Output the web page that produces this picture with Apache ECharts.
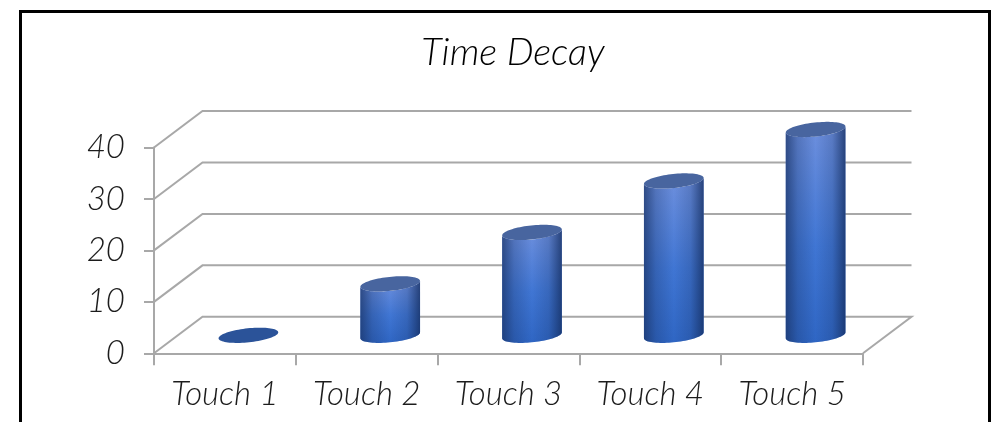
<!DOCTYPE html>
<html>
<head>
<meta charset="utf-8">
<style>html,body{margin:0;padding:0;background:#fff}#c{width:995px;height:422px}</style>
<script src="https://cdn.jsdelivr.net/npm/echarts@6/dist/echarts.min.js"></script>
</head>
<body>
<div id="c"></div>
<script>
// Chart content
const chartTitle = 'Time Decay';
const categories = ['Touch 1', 'Touch 2', 'Touch 3', 'Touch 4', 'Touch 5'];
const touchValues = [0, 10, 20, 30, 40];
const valueTicks = [0, 10, 20, 30, 40];

// Pseudo-3D look: floor depth and cylinder proportions
const DEPTH_X = 48.5, DEPTH_Y = -36.5;
const MID_X = 23.5, MID_Y = -18;
const RX = 30, RY = 7, TILT = -6 * Math.PI / 180;
const LINE = '#a8a8a8';

// Point on the tilted ellipse around (cx, cy) at parameter t
function ellipsePoint(cx, cy, t) {
  const c = Math.cos(t), s = Math.sin(t);
  return [
    cx + RX * c * Math.cos(TILT) - RY * s * Math.sin(TILT),
    cy + RX * c * Math.sin(TILT) + RY * s * Math.cos(TILT)
  ];
}
function ellipsePoints(cx, cy, from, to, steps) {
  const pts = [];
  for (let i = 0; i <= steps; i++) pts.push(ellipsePoint(cx, cy, from + (to - from) * i / steps));
  return pts;
}

// Wall and floor lines that recede from each value tick
function renderGridLine(params, api) {
  const y = api.coord([0, api.value(1)])[1];
  const left = params.coordSys.x, right = left + params.coordSys.width;
  const style = { stroke: LINE, lineWidth: 2, fill: null };
  const points = [[left, y], [left + DEPTH_X, y + DEPTH_Y], [right + DEPTH_X, y + DEPTH_Y]];
  if (api.value(1) === 0) points.push([right, y]);
  return { type: 'polyline', shape: { points }, style };
}

// One cylinder: body, side shading and cap
function renderCylinder(params, api) {
  const top = api.coord([api.value(0), api.value(1)]);
  const base = api.coord([api.value(0), 0]);
  const cx = top[0] + MID_X;
  const yTop = top[1] + MID_Y, yBase = base[1] + MID_Y;
  const children = [];
  if (api.value(1) > 0) {
    const t0 = Math.atan2(-RY * Math.sin(TILT), RX * Math.cos(TILT));
    const body = ellipsePoints(cx, yBase, t0, t0 + Math.PI, 40)
      .concat(ellipsePoints(cx, yTop, t0 + Math.PI, t0, 40));
    children.push({
      type: 'polygon', shape: { points: body },
      style: { fill: { type: 'linear', x: 0, y: 0, x2: 0, y2: 1, colorStops: [
        { offset: 0, color: '#6e90de' },
        { offset: 0.55, color: '#4076d4' },
        { offset: 1, color: '#2f66c4' }
      ] } }
    });
    children.push({
      type: 'polygon', shape: { points: body },
      style: { fill: { type: 'linear', x: 0, y: 0, x2: 1, y2: 0, colorStops: [
        { offset: 0, color: 'rgba(25,50,100,0.72)' },
        { offset: 0.2, color: 'rgba(25,50,100,0.28)' },
        { offset: 0.5, color: 'rgba(25,50,100,0)' },
        { offset: 0.78, color: 'rgba(25,50,100,0.22)' },
        { offset: 1, color: 'rgba(20,45,95,0.78)' }
      ] } }
    });
  }
  children.push({
    type: 'polygon',
    shape: { points: ellipsePoints(cx, yTop, 0, Math.PI * 2, 80) },
    style: { fill: api.value(1) > 0 ? '#48659f' : '#2b5399' }
  });
  return { type: 'group', children };
}

const chart = echarts.init(document.getElementById('c'), null, { renderer: 'canvas' });
chart.setOption({
  animation: false,
  backgroundColor: '#fff',
  title: {
    text: chartTitle, left: 508, top: 29, textAlign: 'center',
    textStyle: { fontFamily: 'Lato', fontStyle: 'italic', fontWeight: 300, fontSize: 38, color: '#000' }
  },
  graphic: [{
    type: 'rect', z: 0,
    shape: { x: 20.5, y: 11.5, width: 969, height: 440 },
    style: { fill: 'none', stroke: '#000', lineWidth: 3 }
  }],
  grid: { left: 154, top: 147.5, width: 709, height: 205.8 },
  xAxis: {
    type: 'category', data: categories,
    axisLine: { show: true, lineStyle: { color: LINE, width: 2 } },
    axisTick: { show: true, length: 12, lineStyle: { color: LINE, width: 2 } },
    axisLabel: { margin: 25, fontFamily: 'Lato', fontStyle: 'italic', fontWeight: 300, fontSize: 33, color: '#1c1c1c' }
  },
  yAxis: {
    type: 'value', min: 0, max: 40, interval: 10,
    splitLine: { show: false },
    axisLine: { show: true, lineStyle: { color: LINE, width: 2 } },
    axisTick: { show: true, length: 10, lineStyle: { color: LINE, width: 2 } },
    axisLabel: { margin: 29, fontFamily: 'Lato', fontStyle: 'italic', fontWeight: 300, fontSize: 33, color: '#1c1c1c' }
  },
  series: [
    {
      type: 'custom', silent: true, z: 1,
      renderItem: renderGridLine,
      encode: { x: 0, y: 1 },
      data: valueTicks.map(v => [0, v])
    },
    {
      type: 'custom', silent: true, z: 2,
      renderItem: renderCylinder,
      encode: { x: 0, y: 1 },
      data: touchValues.map((v, i) => [i, v])
    }
  ]
});
</script>
</body>
</html>
